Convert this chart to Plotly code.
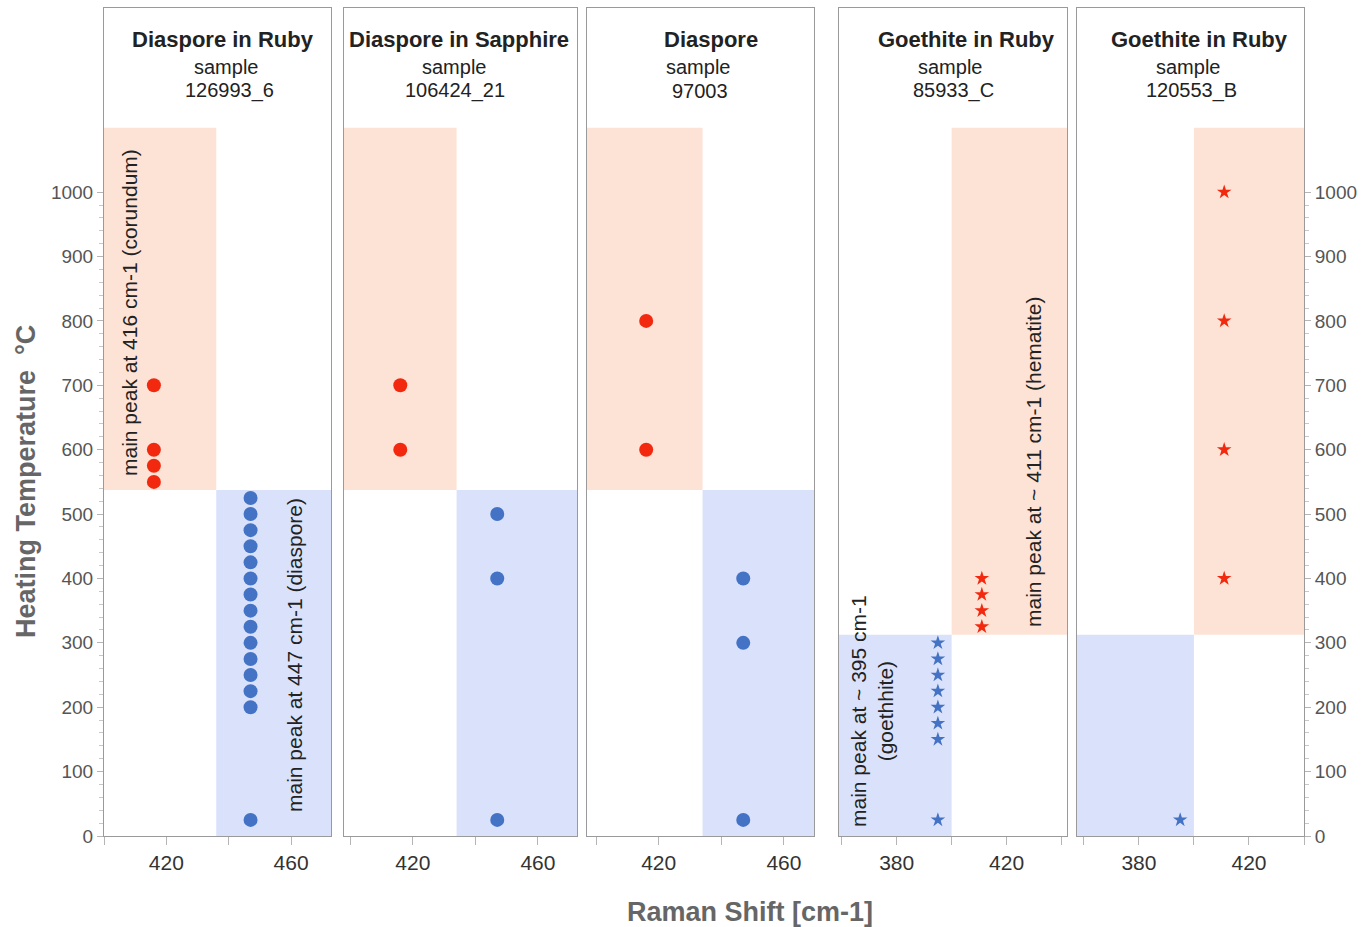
import plotly.graph_objects as go

W, H = 1367, 927

# ---- data ----
titles = ["Diaspore in Ruby", "Diaspore in Sapphire", "Diaspore", "Goethite in Ruby", "Goethite in Ruby"]
samples = ["126993_6", "106424_21", "97003", "85933_C", "120553_B"]

red_x = [416, 416, 416, 411, 411]
red_y = [
    [700, 600, 575, 550],
    [700, 600],
    [800, 600],
    [400, 375, 350, 325],
    [1000, 800, 600, 400],
]
blue_x = [447, 447, 447, 395, 395]
blue_y = [
    [525, 500, 475, 450, 425, 400, 375, 350, 325, 300, 275, 250, 225, 200, 25],
    [500, 400, 25],
    [400, 300, 25],
    [300, 275, 250, 225, 200, 175, 150, 25],
    [25],
]
marker_kind = ["circle", "circle", "circle", "star", "star"]

# phase regions: wavenumber split and temperature split per sample
split_shift = [436, 434, 434, 400, 400]
split_temp = [537.5, 537.5, 537.5, 312.5, 312.5]
temp_top = 1100
temp_bottom = 0
# which side (low-shift vs high-shift) holds the high-temperature phase
high_temp_on_low_side = [True, True, True, False, False]

x_ranges = [[400, 472.8], [398, 472.5], [397.1, 469.6], [359, 442], [357.5, 440]]
x_tick0 = [420, 420, 420, 380, 380]
y_ticks = list(range(0, 1001, 100))
y_minor_ticks = list(range(0, 1001, 20))

# ---- layout geometry (pixels) ----
panel_px = [(104, 331), (344, 577), (587, 814), (839, 1067), (1077, 1304)]
plot_top_px, plot_bot_px = 8, 836
y_range = [0, 1286]

ORANGE_FILL = "#fde3d6"
BLUE_FILL = "#dae2fb"
RED = "#f2290f"
BLUE = "#4472c4"
FRAME = "#9a9a9a"
FONT = "Liberation Sans, Arial, sans-serif"

fig = go.Figure()
ydom = [1 - plot_bot_px / H, 1 - plot_top_px / H]

def px(x):
    return x / W

def py(y):
    return 1 - y / H

for i in range(5):
    n = "" if i == 0 else str(i + 1)
    xa, ya = "x" + n, "y" + n
    lo, hi = x_ranges[i]
    # shaded phase regions
    if high_temp_on_low_side[i]:
        hot = (lo, split_shift[i])
        cold = (split_shift[i], hi)
    else:
        hot = (split_shift[i], hi)
        cold = (lo, split_shift[i])
    fig.add_shape(type="rect", xref=xa, yref=ya, x0=hot[0], x1=hot[1],
                  y0=split_temp[i], y1=temp_top, fillcolor=ORANGE_FILL,
                  line_width=0, layer="below")
    fig.add_shape(type="rect", xref=xa, yref=ya, x0=cold[0], x1=cold[1],
                  y0=temp_bottom, y1=split_temp[i], fillcolor=BLUE_FILL,
                  line_width=0, layer="below")

    msize = 14 if marker_kind[i] == "circle" else 11
    fig.add_trace(go.Scatter(
        x=[red_x[i]] * len(red_y[i]), y=red_y[i], mode="markers",
        marker=dict(symbol=marker_kind[i], size=msize, color=RED, line_width=0),
        xaxis=xa, yaxis=ya, showlegend=False, hoverinfo="x+y"))
    fig.add_trace(go.Scatter(
        x=[blue_x[i]] * len(blue_y[i]), y=blue_y[i], mode="markers",
        marker=dict(symbol=marker_kind[i], size=msize, color=BLUE, line_width=0),
        xaxis=xa, yaxis=ya, showlegend=False, hoverinfo="x+y"))

    x0p, x1p = panel_px[i]
    fig.layout["xaxis" + n] = dict(
        domain=[px(x0p), px(x1p)], range=x_ranges[i], anchor=ya,
        showgrid=False, zeroline=False, showline=True, mirror=True,
        linecolor=FRAME, linewidth=1,
        tick0=x_tick0[i], dtick=40, ticks="outside", ticklen=8,
        tickcolor="#b5b5b5",
        minor=dict(dtick=20, tick0=x_tick0[i], ticks="outside", ticklen=8,
                   tickcolor="#b5b5b5"),
        tickfont=dict(family=FONT, size=21, color="#333333"),
        fixedrange=True)

    yaxis = dict(
        domain=ydom, range=y_range, anchor=xa,
        showgrid=False, zeroline=False, showline=True, mirror=True,
        linecolor=FRAME, linewidth=1, fixedrange=True)
    if i == 0 or i == 4:
        yaxis.update(
            tickvals=y_ticks, ticks="outside", ticklen=6, tickcolor="#b5b5b5",
            minor=dict(tickvals=y_minor_ticks, ticks="outside", ticklen=4,
                       tickcolor="#c8c8c8"),
            tickfont=dict(family=FONT, size=19, color="#555555"))
        if i == 4:
            yaxis["side"] = "right"
    else:
        yaxis.update(showticklabels=False, ticks="")
    fig.layout["yaxis" + n] = yaxis

# panel headings
title_pos = [
    ((223, 40), (226, 67), (229, 91)),
    ((459, 40), (454, 67), (455, 91)),
    ((711, 40), (698, 67), (700, 91)),
    ((966, 40), (950, 67), (953, 91)),
    ((1199, 40), (1188, 67), (1191, 91)),
]
annotations = []
for i in range(5):
    (tx, ty), (sx, sy), (nx, ny) = title_pos[i]
    annotations.append(dict(x=px(tx), y=py(ty), text="<b>" + titles[i] + "</b>",
                            font=dict(family=FONT, size=22, color="#222222")))
    annotations.append(dict(x=px(sx), y=py(sy), text="sample",
                            font=dict(family=FONT, size=20, color="#222222")))
    annotations.append(dict(x=px(nx), y=py(ny), text=samples[i],
                            font=dict(family=FONT, size=20, color="#222222")))

# rotated peak labels
peak_labels = [
    (129, 313, "main peak at 416 cm-1 (corundum)"),
    (294, 655, "main peak at 447 cm-1 (diaspore)"),
    (872, 711, "main peak at ~ 395 cm-1<br>(goethhite)"),
    (1033, 462, "main peak at ~ 411 cm-1 (hematite)"),
]
for x, y, t in peak_labels:
    annotations.append(dict(x=px(x), y=py(y), text=t, textangle=-90,
                            font=dict(family=FONT, size=21, color="#222222")))

# axis titles
annotations.append(dict(x=px(26), y=py(482), text="<b>Heating Temperature\u00a0\u00a0°C</b>",
                        textangle=-90, font=dict(family=FONT, size=27, color="#666666")))
annotations.append(dict(x=px(750), y=py(912), text="<b>Raman Shift [cm-1]</b>",
                        font=dict(family=FONT, size=27, color="#666666")))

for a in annotations:
    a.update(xref="paper", yref="paper", showarrow=False, xanchor="center", yanchor="middle")

fig.update_layout(
    width=W, height=H,
    margin=dict(l=0, r=0, t=0, b=0, autoexpand=False),
    paper_bgcolor="white", plot_bgcolor="white",
    annotations=annotations,
    font=dict(family=FONT),
)

fig.write_html("out.html")
